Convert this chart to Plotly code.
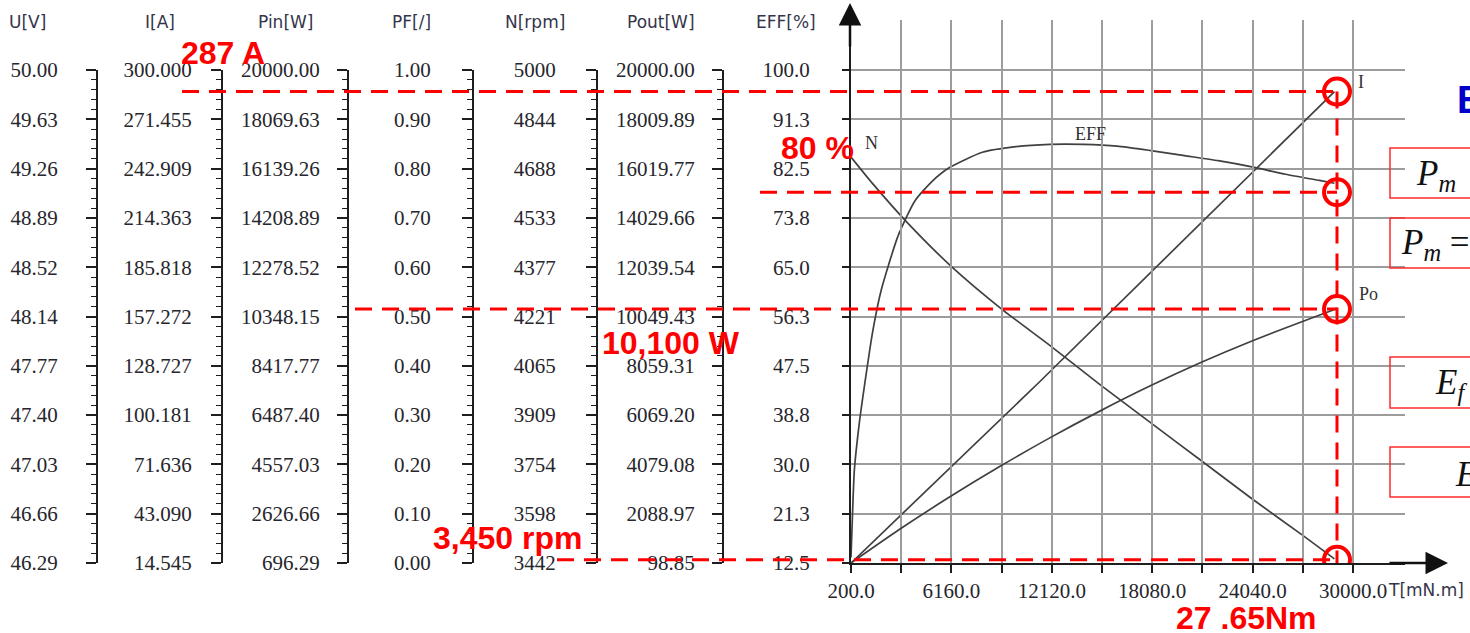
import numpy as np
import plotly.graph_objects as go

W, H = 1470, 633

# ---------------- data ----------------
col_titles = ["U[V]", "I[A]", "Pin[W]", "PF[/]", "N[rpm]", "Pout[W]", "EFF[%]"]
U_ticks = ["50.00", "49.63", "49.26", "48.89", "48.52", "48.14", "47.77", "47.40", "47.03", "46.66", "46.29"]
I_ticks = ["300.000", "271.455", "242.909", "214.363", "185.818", "157.272", "128.727", "100.181", "71.636", "43.090", "14.545"]
Pin_ticks = ["20000.00", "18069.63", "16139.26", "14208.89", "12278.52", "10348.15", "8417.77", "6487.40", "4557.03", "2626.66", "696.29"]
PF_ticks = ["1.00", "0.90", "0.80", "0.70", "0.60", "0.50", "0.40", "0.30", "0.20", "0.10", "0.00"]
N_ticks = ["5000", "4844", "4688", "4533", "4377", "4221", "4065", "3909", "3754", "3598", "3442"]
Pout_ticks = ["20000.00", "18009.89", "16019.77", "14029.66", "12039.54", "10049.43", "8059.31", "6069.20", "4079.08", "2088.97", "98.85"]
EFF_ticks = ["100.0", "91.3", "82.5", "73.8", "65.0", "56.3", "47.5", "38.8", "30.0", "21.3", "12.5"]
T_ticks = ["200.0", "", "6160.0", "", "12120.0", "", "18080.0", "", "24040.0", "", "30000.0"]
T_min, T_max = 200.0, 30000.0

# curves (torque in mN.m)
T_I = [200, 11400, 28900]
I_curve = [14.5, 119.5, 287.5]

T_N = [200, 1500, 3500, 6200, 9200, 12000, 15000, 18000, 21000, 24000, 27000, 28900]
N_curve = [4725, 4640, 4520, 4377, 4242, 4130, 4005, 3885, 3765, 3645, 3530, 3455]

T_P = [200, 3000, 6000, 9000, 12000, 15000, 18000, 21000, 24000, 27000, 28900]
Pout_curve = [99, 1420, 2740, 3980, 5150, 6240, 7260, 8200, 9060, 9850, 10330]

T_E = [200, 300, 400, 700, 1000, 1500, 2000, 3000, 4000, 5000, 6000, 8000, 10000, 12000, 14000,
       16000, 18000, 20000, 22000, 24000, 26000, 28000, 28900]
EFF_curve = [13.5, 22.0, 29.0, 37.5, 44.0, 53.8, 61.0, 70.6, 76.8, 80.2, 82.6, 85.4, 86.4, 86.8, 86.8,
             86.5, 85.7, 84.8, 83.9, 82.8, 81.5, 80.4, 79.9]

# marked operating point
op_T = 29050
op_I = 287.5
op_EFF = 78.3
op_Pout = 10350
op_N = 3452

red_labels = ["287 A", "80 %", "10,100 W", "3,450 rpm", "27 .65Nm"]

# ---------------- layout helpers ----------------
def px(p):
    return p / W

def py(p):
    return 1 - p / H

ROW_TOP, ROW_BOT, GRID_TOP = 70, 563, 20
X0_PX, X10_PX, XEND_PX = 851, 1353, 1405

col_domain = [py(ROW_BOT), py(ROW_TOP)]
main_domain = [py(ROW_BOT), py(GRID_TOP)]
x_domain = [px(X0_PX), px(XEND_PX)]
x_range = [T_min, T_min + (T_max - T_min) * (XEND_PX - X0_PX) / (X10_PX - X0_PX)]


def x_to_paper(t):
    return x_domain[0] + (t - x_range[0]) / (x_range[1] - x_range[0]) * (x_domain[1] - x_domain[0])


tick_font = dict(family="Liberation Serif", size=21, color="#26262c")
axis_col = "#1e1e1e"
grid_col = "#9c9c9c"
curve_col = "#404040"
red = "#ff0000"

fig = go.Figure()

# column axes: (id, labels, axis x px, standoff)
columns = [
    ("y2", U_ticks, 97, 24),
    ("y3", I_ticks, 222, 15),
    ("y4", Pin_ticks, 348, 13),
    ("y5", PF_ticks, 473, 27),
    ("y6", N_ticks, 597, 26),
    ("y7", Pout_ticks, 723, 13),
]

layout_axes = {}
ranges = {}
for aid, labels, xpos, stand in columns:
    vals = [float(v) for v in labels]
    lo, hi = min(vals), max(vals)
    ranges[aid] = (lo, hi)
    tv = list(np.linspace(hi, lo, len(labels)))
    minor_vals = list(np.linspace(lo, hi, 51))
    layout_axes["yaxis" + aid[1:]] = dict(
        domain=col_domain, anchor="free", position=px(xpos), range=[lo, hi],
        tickmode="array", tickvals=tv, ticktext=labels,
        ticks="outside", ticklen=10, tickwidth=1.5, tickcolor=axis_col,
        showline=True, linecolor=axis_col, linewidth=2,
        showgrid=False, zeroline=False, side="left",
        tickfont=tick_font, ticklabelstandoff=stand,
        minor=dict(tickmode="array", tickvals=minor_vals, ticks="outside", ticklen=5,
                   tickwidth=1.2, tickcolor=axis_col, showgrid=False),
        fixedrange=True, automargin=False,
    )

# main EFF axis
eff_vals = [float(v) for v in EFF_ticks]
eff_lo, eff_hi = min(eff_vals), max(eff_vals)
eff_top = eff_lo + (eff_hi - eff_lo) * (ROW_BOT - GRID_TOP) / (ROW_BOT - ROW_TOP)
layout_axes["yaxis"] = dict(
    domain=main_domain, anchor="x", range=[eff_lo, eff_top],
    tickmode="array", tickvals=list(np.linspace(eff_hi, eff_lo, 11)), ticktext=EFF_ticks,
    ticks="outside", ticklen=7, tickwidth=1.5, tickcolor=axis_col,
    showline=True, linecolor=axis_col, linewidth=2,
    showgrid=True, gridcolor=grid_col, gridwidth=1.5, zeroline=False,
    tickfont=tick_font, ticklabelstandoff=28, fixedrange=True, automargin=False,
)
layout_axes["xaxis"] = dict(
    domain=x_domain, anchor="y", range=x_range,
    tickmode="array", tickvals=list(np.linspace(T_min, T_max, 11)), ticktext=T_ticks,
    ticks="outside", ticklen=8, tickwidth=1.5, tickcolor=axis_col,
    showline=True, linecolor=axis_col, linewidth=2,
    showgrid=True, gridcolor=grid_col, gridwidth=1.5, zeroline=False,
    tickfont=tick_font, tickangle=0, fixedrange=True, automargin=False,
)

# placeholder traces so every scale axis is drawn
for aid in ["y2", "y4", "y5"]:
    fig.add_trace(go.Scatter(x=[None], y=[None], xaxis="x", yaxis=aid, mode="lines",
                             showlegend=False, hoverinfo="skip"))

line_style = dict(color=curve_col, width=1.7)
fig.add_trace(go.Scatter(x=T_E, y=EFF_curve, xaxis="x", yaxis="y", mode="lines",
                         line=dict(shape="spline", smoothing=0.6, **line_style), name="EFF"))
fig.add_trace(go.Scatter(x=T_I, y=I_curve, xaxis="x", yaxis="y3", mode="lines",
                         line=dict(shape="spline", smoothing=0.5, **line_style), name="I"))
fig.add_trace(go.Scatter(x=T_N, y=N_curve, xaxis="x", yaxis="y6", mode="lines",
                         line=dict(shape="spline", smoothing=0.6, **line_style), name="N"))
fig.add_trace(go.Scatter(x=T_P, y=Pout_curve, xaxis="x", yaxis="y7", mode="lines",
                         line=dict(shape="spline", smoothing=0.6, **line_style), name="Po"))

# red circles at operating point
circle = dict(symbol="circle-open", size=26, color=red, line=dict(width=4, color=red))
for yid, val in [("y3", op_I), ("y", op_EFF), ("y7", op_Pout), ("y6", op_N)]:
    fig.add_trace(go.Scatter(x=[op_T], y=[val], xaxis="x", yaxis=yid, mode="markers",
                             marker=circle, showlegend=False, hoverinfo="skip"))

dash = dict(color=red, width=3, dash="17px,10px")
shapes = [
    dict(type="line", xref="paper", yref="y3", x0=px(182), x1=x_to_paper(op_T), y0=op_I, y1=op_I, line=dash),
    dict(type="line", xref="paper", yref="y", x0=px(760), x1=x_to_paper(op_T), y0=op_EFF, y1=op_EFF, line=dash),
    dict(type="line", xref="paper", yref="y7", x0=px(355), x1=x_to_paper(op_T), y0=op_Pout, y1=op_Pout, line=dash),
    dict(type="line", xref="paper", yref="y6", x0=px(557), x1=x_to_paper(op_T), y0=op_N, y1=op_N, line=dash),
    dict(type="line", xref="x", yref="y3", x0=op_T, x1=op_T, y0=op_I, y1=ranges["y3"][0], line=dash),
]
# right-hand boxes (cropped slide content)
for top, bot in [(148, 198), (218, 268), (357, 408), (447, 497)]:
    shapes.append(dict(type="rect", xref="paper", yref="paper", x0=px(1390), x1=px(1490),
                       y0=py(bot), y1=py(top), line=dict(color="#ff2a2a", width=1.5)))

ann = []
C = dict(xref="paper", yref="paper", showarrow=False, xanchor="center", yanchor="middle")
# column headers
for title, cx in zip(col_titles, [27, 160, 285, 411, 535, 661, 786]):
    ann.append(dict(text=title, x=px(cx), y=py(22), font=dict(family="DejaVu Sans", size=17, color="#35354a"), **C))

# red value labels
for text, (cx, cy) in zip(red_labels, [(223, 53), (817, 148), (671, 343), (507, 538), (1246, 618)]):
    ann.append(dict(text="<b>%s</b>" % text, x=px(cx), y=py(cy),
                    font=dict(family="Liberation Sans", size=32, color=red), **C))

# curve labels
lab_font = dict(family="Liberation Serif", size=18, color="#333333")
L = dict(showarrow=False, xanchor="center", yanchor="middle", font=lab_font)
ann += [
    dict(text="I", x=T_I[-1], y=I_curve[-1], xref="x", yref="y3", xshift=27, yshift=10, **L),
    dict(text="Po", x=T_P[-1], y=Pout_curve[-1], xref="x", yref="y7", xshift=34, yshift=16, **L),
    dict(text="N", x=T_N[0], y=N_curve[0], xref="x", yref="y6", xshift=20, yshift=14, **L),
    dict(text="EFF", x=14400, y=max(EFF_curve), xref="x", yref="y", yshift=10, **L),
]
ann.append(dict(text="T[mN.m]", x=px(1386), y=py(590), xref="paper", yref="paper", xanchor="left",
                yanchor="middle", showarrow=False, font=dict(family="DejaVu Sans", size=17, color="#35354a")))

# axis arrows
ann.append(dict(x=px(850), y=py(3), xref="paper", yref="paper", ax=0, ay=45, axref="pixel", ayref="pixel",
                text="", showarrow=True, arrowhead=2, arrowsize=1.8, arrowwidth=2.5, arrowcolor="#111111"))
ann.append(dict(x=px(1448), y=py(563), xref="paper", yref="paper", ax=-60, ay=0, axref="pixel", ayref="pixel",
                text="", showarrow=True, arrowhead=2, arrowsize=1.8, arrowwidth=2.5, arrowcolor="#111111"))

# cropped slide text at right
math_font = dict(family="Liberation Serif", size=35, color="#111111")
M = dict(xref="paper", yref="paper", xanchor="left", yanchor="middle", showarrow=False)
ann += [
    dict(text="<b>E</b>", x=px(1455), y=py(100), font=dict(family="Liberation Sans", size=38, color="#0000c8"), **M),
    dict(text="<i>P</i><sub><i>m</i></sub>", x=px(1414), y=py(175), font=math_font, **M),
    dict(text="<i>P</i><sub><i>m</i></sub> =", x=px(1399), y=py(244), font=math_font, **M),
    dict(text="<i>E</i><sub><i>f</i></sub>", x=px(1433), y=py(384), font=math_font, **M),
    dict(text="<i>E</i>", x=px(1453), y=py(474), font=math_font, **M),
]

fig.update_layout(
    width=W, height=H, margin=dict(l=0, r=0, t=0, b=0, autoexpand=False),
    paper_bgcolor="white", plot_bgcolor="rgba(0,0,0,0)",
    showlegend=False, shapes=shapes, annotations=ann,
    **layout_axes,
)

fig.write_html("out.html", config={"displayModeBar": False},
               post_script="document.body.style.margin='0';document.body.style.overflow='hidden';")
